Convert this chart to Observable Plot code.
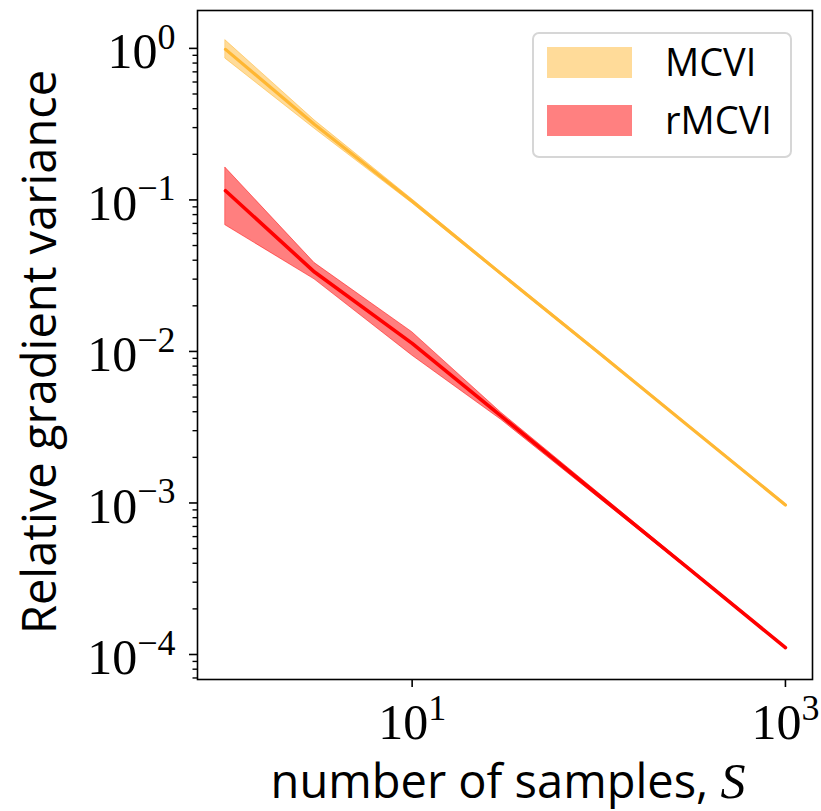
<!DOCTYPE html>
<html><head><meta charset="utf-8">
<script src="https://cdn.jsdelivr.net/npm/d3@7"></script>
<script src="https://cdn.jsdelivr.net/npm/@observablehq/plot@0.6"></script>
<style>
body{margin:0;background:#fff}
#wrap{position:relative;width:821px;height:811px}
#legend{position:absolute;left:532px;top:32px;width:256px;height:122px;border:2px solid #d6d6d6;border-radius:7px;background:rgba(255,255,255,0.8);font-family:"Open Sans",sans-serif}
.sw{position:absolute;left:13px;width:85px;height:31px}
.lb{position:absolute;left:131px;font-size:38px;line-height:38px;color:#000}
</style>
</head><body><div id="wrap"></div>
<script>
// ---- data ----
const samples = [1, 3, 10, 30, 100, 300, 1000];
const mcviMean = [0.985, 0.315, 0.098, 0.0325, 0.0098, 0.00325, 0.00097];
const mcviLow  = [0.855, 0.295, 0.095, 0.0318, 0.0096, 0.0032, 0.00095];
const mcviHigh = [1.13, 0.335, 0.101, 0.0332, 0.0100, 0.0033, 0.00099];
const rmcviMean = [0.115, 0.0334, 0.0113, 0.00374, 0.00112, 0.000373, 0.000111];
const rmcviLow  = [0.068, 0.0299, 0.0094, 0.00354, 0.00108, 0.000365, 0.000109];
const rmcviHigh = [0.163, 0.0383, 0.0134, 0.00394, 0.00116, 0.000381, 0.000113];
const seriesNames = ["MCVI", "rMCVI"];
const lineColors = ["#ffb733", "#ff0000"];
const lineWidths = [3.2, 3.6];
const bandColors = ["#ffa500", "#ff0000"];
const bandOpacity = [0.4, 0.5];
const legendSwatches = ["#ffdb99", "#ff8080"];
const xTickValues = [10, 1000];
const yTickValues = [1, 0.1, 0.01, 0.001, 0.0001];
const xLabel = "number of samples, S";
const yLabel = "Relative gradient variance";

const table = (mean, lo, hi, name) => samples.map((S, i) => ({S, mean: mean[i], lo: lo[i], hi: hi[i], series: name}));
const rows = [
  table(mcviMean, mcviLow, mcviHigh, seriesNames[0]),
  table(rmcviMean, rmcviLow, rmcviHigh, seriesNames[1])
];

const xDomain = [Math.pow(10, -0.15), Math.pow(10, 3.145)];
const yDomain = [Math.pow(10, -4.165), Math.pow(10, 0.25)];
const yMinor = [];
for (let k = -5; k <= 0; k++) for (let m = 2; m <= 9; m++) {
  const v = m * Math.pow(10, k);
  if (v > yDomain[0] && v < yDomain[1]) yMinor.push(v);
}
const F = 50;      // tick label font size
const LF = 47;     // axis label font size
const supFmt = v => "10^" + Math.round(Math.log10(v));

const marks = [];
rows.forEach((r, i) => marks.push(Plot.areaY(r, {x: "S", y1: "lo", y2: "hi", fill: bandColors[i], fillOpacity: bandOpacity[i], stroke: bandColors[i], strokeOpacity: bandOpacity[i], strokeWidth: 1})));
rows.forEach((r, i) => marks.push(Plot.lineY(r, {x: "S", y: "mean", stroke: lineColors[i], strokeWidth: lineWidths[i]})));
marks.push(
  Plot.frame({stroke: "black", strokeWidth: 1.6}),
  Plot.axisY({ticks: yMinor, tickSize: 4.5, strokeWidth: 1.4, tickFormat: () => "", label: null}),
  Plot.axisY({ticks: yTickValues, tickSize: 8, strokeWidth: 1.6, tickPadding: 14, tickFormat: supFmt, fontSize: F, fontFamily: "Liberation Serif", label: null}),
  Plot.axisX({ticks: xTickValues, tickSize: 8, strokeWidth: 1.6, tickPadding: 16, tickFormat: supFmt, fontSize: F, fontFamily: "Liberation Serif", label: null}),
  Plot.text([yLabel], {frameAnchor: "left", rotate: -90, dx: -157, dy: 7, lineAnchor: "middle", textAnchor: "middle", fontSize: LF, fontFamily: "Open Sans", fill: "black"}),
  Plot.text([xLabel], {frameAnchor: "bottom", dx: 3, dy: 103, lineAnchor: "middle", textAnchor: "middle", fontSize: LF, fontFamily: "Open Sans", fill: "black"})
);

const svg = Plot.plot({
  width: 821, height: 811,
  marginLeft: 197, marginRight: 9, marginTop: 10, marginBottom: 132,
  style: {background: "white", color: "black", overflow: "visible"},
  x: {type: "log", domain: xDomain},
  y: {type: "log", domain: yDomain},
  marks
});

// superscripts for 10^k tick labels, italic S in the x label
const ns = "http://www.w3.org/2000/svg";
svg.querySelectorAll("text").forEach(t => {
  const s = t.textContent;
  const m = /^10\^(.+)$/.exec(s);
  if (m) {
    const g = t.parentNode;
    const isY = /y-axis/.test(g.getAttribute("aria-label") || "");
    t.textContent = "";
    const a = document.createElementNS(ns, "tspan");
    a.textContent = "10";
    if (isY) a.setAttribute("dy", 4);
    const b = document.createElementNS(ns, "tspan");
    b.textContent = m[1].replace("-", "\u2212");
    b.setAttribute("dy", -0.39 * F);
    b.setAttribute("font-size", 0.72 * F);
    t.append(a, b);
  } else if (s === xLabel) {
    t.textContent = "";
    const a = document.createElementNS(ns, "tspan");
    a.textContent = "number of samples, ";
    const b = document.createElementNS(ns, "tspan");
    b.textContent = "S";
    b.setAttribute("font-family", "Liberation Serif");
    b.setAttribute("font-style", "italic");
    b.setAttribute("font-size", 50);
    t.append(a, b);
  }
});

const wrap = document.getElementById("wrap");
wrap.appendChild(svg);

const lg = document.createElement("div");
lg.id = "legend";
seriesNames.forEach((name, i) => {
  const sw = document.createElement("div");
  sw.className = "sw";
  sw.style.top = (13 + i * 57.5) + "px";
  sw.style.background = legendSwatches[i];
  const lb = document.createElement("div");
  lb.className = "lb";
  lb.style.top = (7.5 + i * 58.5) + "px";
  lb.textContent = name;
  lg.append(sw, lb);
});
wrap.appendChild(lg);
</script>
</body></html>
